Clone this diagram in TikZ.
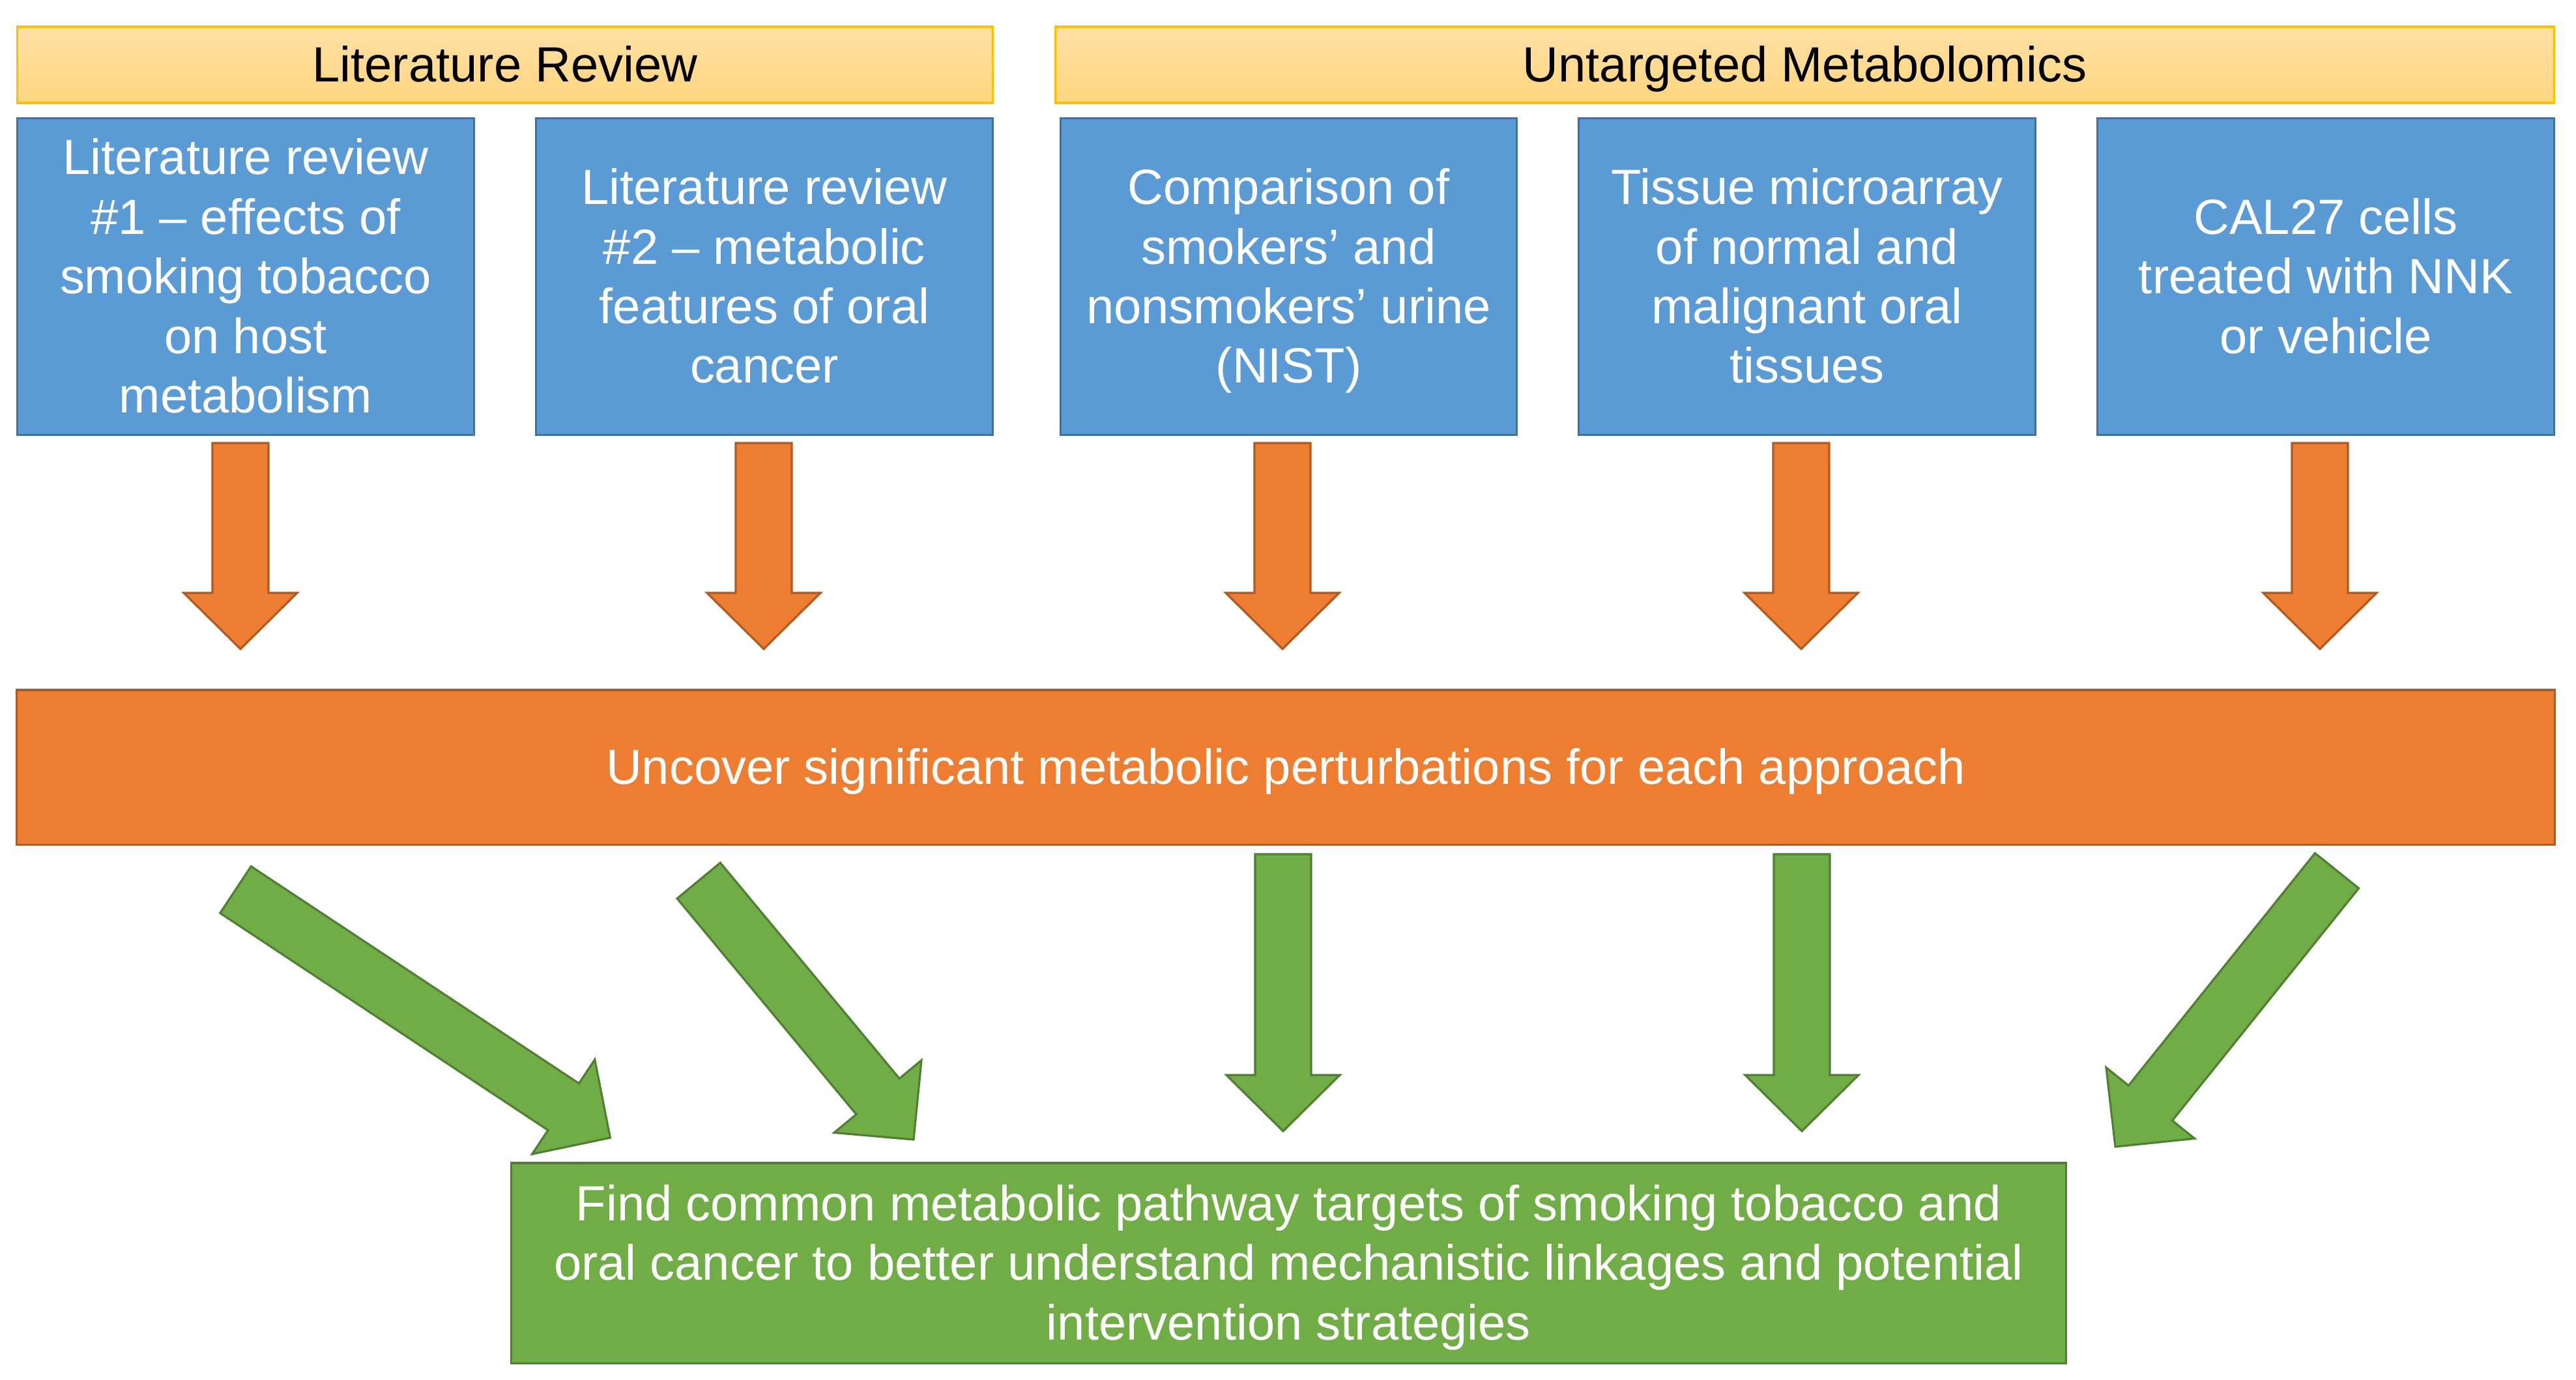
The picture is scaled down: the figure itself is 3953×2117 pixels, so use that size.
\documentclass[tikz,border=0pt]{standalone}
\usepackage{fontspec}
\setmainfont{Liberation Sans}
\usetikzlibrary{calc}
\definecolor{boxblue}{HTML}{5B9BD5}
\definecolor{blueline}{HTML}{41719C}
\definecolor{boxorange}{HTML}{ED7D31}
\definecolor{orangeline}{HTML}{AE5A21}
\definecolor{boxgreen}{HTML}{70AD47}
\definecolor{greenline}{HTML}{507E32}
\definecolor{hdrtop}{HTML}{FFE1A6}
\definecolor{hdrbot}{HTML}{FFD57E}
\definecolor{hdrline}{HTML}{FFC000}
\newcommand{\diagfont}{\fontsize{21.6pt}{26pt}\selectfont}
% line strut: Arial-like ascent and descent, so text is centred by its lines, not its ink
\newcommand{\lstrut}{\rule[-0.212em]{0pt}{1.117em}}
\newcommand{\bigarrow}[3]{%
  \coordinate (hb) at ($(#2)!0.86cm!(#1)$);
  \path[#3] ($(#1)!0.43cm!90:(#2)$) -- ($(hb)!0.43cm!90:(#2)$) -- ($(hb)!0.87cm!90:(#2)$) -- (#2)
    -- ($(hb)!0.87cm!-90:(#2)$) -- ($(hb)!0.43cm!-90:(#2)$) -- ($(#1)!0.43cm!-90:(#2)$) -- cycle;}
\tikzset{
  hdr/.style={draw=hdrline, line width=0.9pt, top color=hdrtop, bottom color=hdrbot, inner sep=0pt,
    text=black, font=\diagfont, minimum height=1.17cm},
  bluebox/.style={draw=blueline, line width=0.9pt, fill=boxblue, inner sep=0pt, text=white,
    font=\diagfont, align=center, minimum width=7cm, minimum height=4.85cm},
  barbox/.style={draw=orangeline, line width=0.9pt, fill=boxorange, inner sep=0pt, text=white,
    font=\diagfont, align=center},
  goalbox/.style={draw=greenline, line width=0.9pt, fill=boxgreen, inner sep=0pt, text=white,
    font=\diagfont, align=center},
  orangearrow/.style={fill=boxorange, draw=orangeline, line width=0.9pt, line join=miter},
  greenarrow/.style={fill=boxgreen, draw=greenline, line width=0.9pt, line join=miter}
}
\begin{document}
\begin{tikzpicture}[x=0.01cm, y=-0.01cm]
\useasboundingbox (0,0) rectangle (3953,2117);
\fill[white] (0,0) rectangle (3953,2117);
% headers
\node[hdr, minimum width=14.96cm] (h1) at (775,99.5) {\lstrut Literature Review};
\node[hdr, minimum width=22.99cm] (h2) at (2769.5,99.5) {\lstrut Untargeted Metabolomics};
% blue boxes
\node[bluebox] (b1) at (377,424.5) {\lstrut Literature review\\\#1 – effects of\\smoking tobacco\\on host\\metabolism\lstrut};
\node[bluebox] (b2) at (1173,424.5) {\lstrut Literature review\\\#2 – metabolic\\features of oral\\cancer\lstrut};
\node[bluebox] (b3) at (1977.5,424.5) {\lstrut Comparison of\\smokers’ and\\nonsmokers’ urine\\(NIST)\lstrut};
\node[bluebox] (b4) at (2773,424.5) {\lstrut Tissue microarray\\of normal and\\malignant oral\\tissues\lstrut};
\node[bluebox] (b5) at (3569,424.5) {\lstrut CAL27 cells\\treated with NNK\\or vehicle\lstrut};
% orange bar
\node[barbox, minimum width=38.92cm, minimum height=2.37cm] (bar) at (1973,1177.5)
  {\lstrut Uncover significant metabolic perturbations for each approach};
% green goal box
\node[goalbox, minimum width=23.85cm, minimum height=3.07cm] (goal) at (1977.5,1938.5)
  {\lstrut Find common metabolic pathway targets of smoking tobacco and\\oral cancer to better understand mechanistic linkages and potential\\intervention strategies\lstrut};
% orange arrows (boxes -> bar)
\coordinate (o1t) at (369,680);  \coordinate (o1h) at (369,996);
\coordinate (o2t) at (1172,680); \coordinate (o2h) at (1172,996);
\coordinate (o3t) at (1968,680); \coordinate (o3h) at (1968,996);
\coordinate (o4t) at (2764,680); \coordinate (o4h) at (2764,996);
\coordinate (o5t) at (3560,680); \coordinate (o5h) at (3560,996);
\bigarrow{o1t}{o1h}{orangearrow}
\bigarrow{o2t}{o2h}{orangearrow}
\bigarrow{o3t}{o3h}{orangearrow}
\bigarrow{o4t}{o4h}{orangearrow}
\bigarrow{o5t}{o5h}{orangearrow}
% green arrows (bar -> goal)
\coordinate (g1t) at (361.5,1365.5);  \coordinate (g1h) at (936.4,1746.2);
\coordinate (g2t) at (1072.2,1351.5); \coordinate (g2h) at (1402,1749);
\coordinate (g3t) at (1969,1311);     \coordinate (g3h) at (1969,1736);
\coordinate (g4t) at (2765,1311);     \coordinate (g4h) at (2765,1736);
\coordinate (g5t) at (3586,1336.3);   \coordinate (g5h) at (3246,1760);
\bigarrow{g1t}{g1h}{greenarrow}
\bigarrow{g2t}{g2h}{greenarrow}
\bigarrow{g3t}{g3h}{greenarrow}
\bigarrow{g4t}{g4h}{greenarrow}
\bigarrow{g5t}{g5h}{greenarrow}
\end{tikzpicture}
\end{document}
